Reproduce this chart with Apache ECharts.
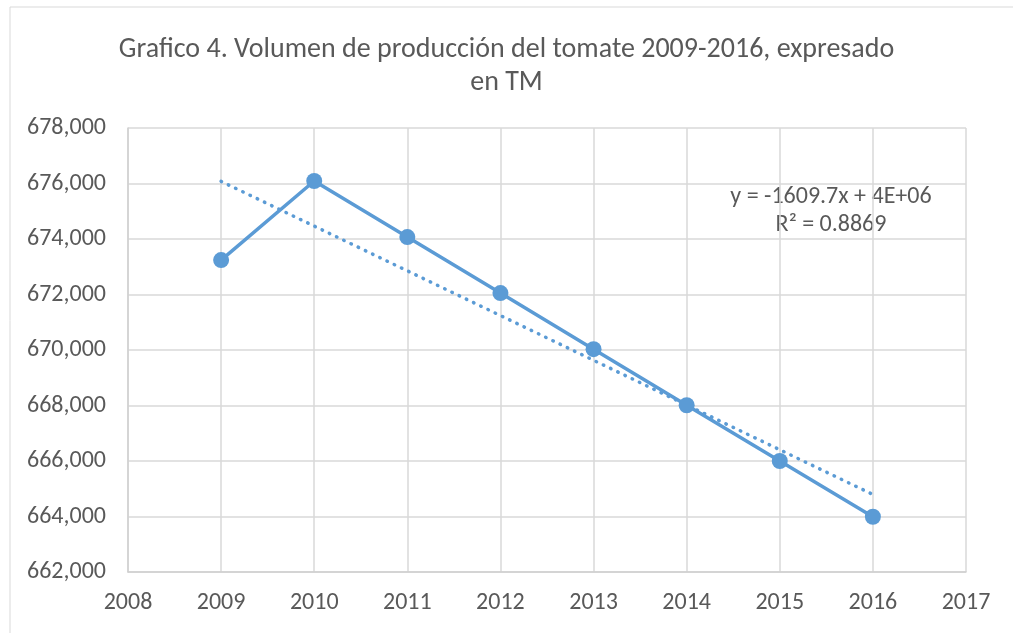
<!DOCTYPE html>
<html>
<head>
<meta charset="utf-8">
<script src="https://cdn.jsdelivr.net/npm/echarts@6/dist/echarts.min.js"></script>
<style>
  html, body { margin: 0; padding: 0; background: #fff; }
  #chart { width: 1013px; height: 633px; }
</style>
</head>
<body>
<div id="chart"></div>
<script>
// Datos
const years = [2009, 2010, 2011, 2012, 2013, 2014, 2015, 2016];
const produccion = [673240, 676090, 674070, 672050, 670030, 668010, 666000, 663990];
const trendLabel = ['y = -1609.7x + 4E+06', 'R² = 0.8869'];
const titleText = 'Grafico 4. Volumen de producción del tomate 2009-2016, expresado\nen TM';

// linea de tendencia (minimos cuadrados)
function linearFit(xs, ys) {
  const n = xs.length;
  const mx = xs.reduce((a, b) => a + b, 0) / n;
  const my = ys.reduce((a, b) => a + b, 0) / n;
  let sxy = 0, sxx = 0;
  for (let i = 0; i < n; i++) {
    sxy += (xs[i] - mx) * (ys[i] - my);
    sxx += (xs[i] - mx) * (xs[i] - mx);
  }
  const m = sxy / sxx;
  return { m: m, b: my - m * mx };
}
const fit = linearFit(years, produccion);
const trendData = [years[0], years[years.length - 1]].map(x => [x, fit.m * x + fit.b]);

const font = "Carlito, 'Liberation Sans Narrow', 'Open Sans', sans-serif";
const chart = echarts.init(document.getElementById('chart'));
chart.setOption({
  animation: false,
  title: {
    text: titleText,
    left: 'center',
    top: 28,
    textStyle: { fontFamily: font, fontSize: 28, fontWeight: 'normal', color: '#595959', lineHeight: 33 }
  },
  grid: { left: 128, right: 47, top: 128, bottom: 61 },
  xAxis: {
    type: 'value',
    min: 2008, max: 2017, interval: 1,
    axisLine: { lineStyle: { color: '#d0d0d0', width: 1.5 } },
    axisTick: { show: false },
    axisLabel: { fontFamily: font, fontSize: 24, color: '#595959', margin: 19, formatter: v => String(v) },
    splitLine: { lineStyle: { color: '#d9d9d9', width: 1.5 } }
  },
  yAxis: {
    type: 'value',
    min: 662000, max: 678000, interval: 2000,
    axisLine: { show: true, lineStyle: { color: '#d0d0d0', width: 1.5 } },
    axisTick: { show: false },
    axisLabel: {
      fontFamily: font, fontSize: 24, color: '#595959', margin: 22,
      formatter: v => v.toLocaleString('en-US')
    },
    splitLine: { lineStyle: { color: '#d9d9d9', width: 1.5 } }
  },
  series: [
    {
      name: 'Produccion',
      type: 'line',
      data: years.map((y, i) => [y, produccion[i]]),
      symbol: 'circle',
      symbolSize: 16,
      itemStyle: { color: '#5b9bd5' },
      lineStyle: { color: '#5b9bd5', width: 3.5 }
    },
    {
      name: 'Tendencia',
      type: 'line',
      data: trendData,
      symbol: 'none',
      lineStyle: { color: '#5b9bd5', width: 3.5, type: [0.5, 7.5], cap: 'round' }
    }
  ],
  graphic: [
    {
      type: 'rect',
      shape: { x: 10, y: 7, width: 1010, height: 640 },
      style: { fill: 'none', stroke: '#d9d9d9', lineWidth: 1 },
      silent: true
    },
    {
      type: 'text',
      x: 831, y: 183,
      style: {
        text: trendLabel.join('\n'),
        align: 'center',
        verticalAlign: 'top',
        fontFamily: font, fontSize: 24, fill: '#595959', lineHeight: 28
      }
    }
  ]
});
</script>
</body>
</html>
